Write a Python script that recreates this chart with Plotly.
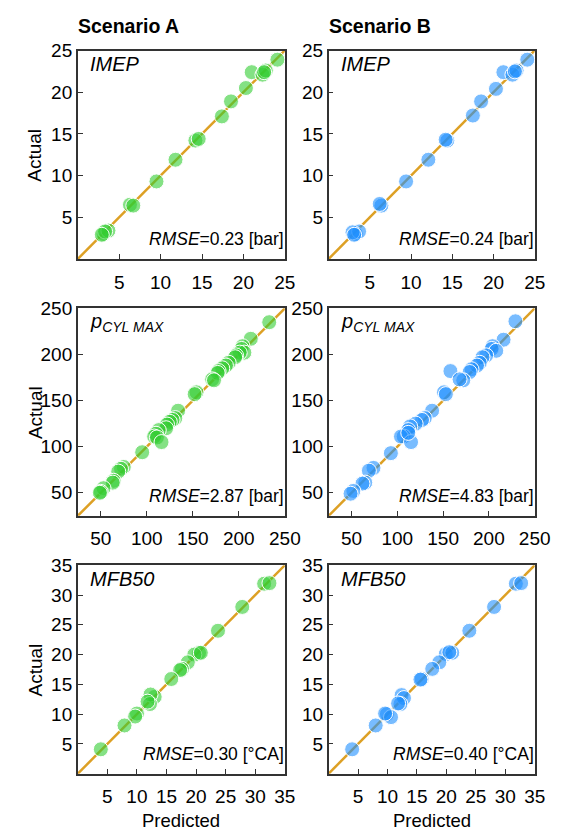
import plotly.graph_objects as go

# ---------------- data ----------------
imep_a_pred = [3.1, 3.7, 3.3, 2.9, 6.3, 6.7, 9.5, 11.8, 14.2, 14.6, 17.4, 18.5, 20.3, 21.0, 22.3, 22.7, 22.5, 24.1]
imep_a_act  = [3.0, 3.4, 3.3, 2.9, 6.5, 6.4, 9.3, 11.9, 14.2, 14.4, 17.1, 18.9, 20.5, 22.4, 22.1, 22.6, 22.4, 23.9]
imep_b_pred = [3.3, 3.7, 2.9, 3.1, 6.4, 6.2, 9.4, 12.1, 14.4, 14.2, 17.5, 18.5, 20.3, 21.2, 22.3, 22.8, 22.6, 24.1]
imep_b_act  = [3.0, 3.3, 3.2, 2.9, 6.4, 6.6, 9.3, 11.9, 14.2, 14.3, 17.2, 18.9, 20.4, 22.4, 22.1, 22.6, 22.5, 23.9]

pcyl_a_pred = [233, 213, 204, 203, 206, 201, 197, 196, 189, 186, 182, 178, 177, 171, 173, 154, 152,
               134, 131, 128, 125, 122, 121, 113, 110, 108, 111, 116, 95, 75, 72, 69, 64, 63, 53, 50, 49]
pcyl_a_act  = [235, 217, 209, 206, 202, 202, 199, 197, 191, 188, 185, 182, 180, 173, 172, 159, 157,
               139, 131, 129, 127, 124, 120, 118, 114, 111, 110, 105, 94, 78, 76, 73, 63, 61, 55, 51, 50]
pcyl_b_pred = [229, 216, 204, 203, 208, 197, 193, 190, 187, 181, 179, 158, 172, 168, 151, 153,
               138, 130, 127, 120, 114, 112, 107, 104, 115, 112, 93, 74, 69, 65, 62, 52, 49]
pcyl_b_act  = [236, 216, 209, 206, 204, 199, 197, 191, 188, 184, 181, 182, 172, 173, 159, 157,
               139, 131, 129, 125, 122, 118, 111, 111, 105, 115, 93, 77, 74, 61, 60, 52, 49]

mfb_a_pred = [31.5, 32.4, 27.8, 23.7, 20.5, 19.7, 20.8, 18.6, 17.6, 17.3, 15.8, 13.0, 12.3, 12.2, 11.8, 10.0, 9.7, 7.9, 3.9]
mfb_a_act  = [31.9, 32.0, 28.0, 24.0, 20.3, 20.0, 20.3, 18.7, 17.6, 17.4, 15.9, 12.9, 13.3, 11.7, 12.1, 10.1, 9.6, 8.1, 4.1]
mfb_b_pred = [31.8, 32.7, 28.1, 23.9, 19.9, 21.0, 20.5, 18.8, 17.6, 15.8, 15.6, 12.4, 12.8, 12.2, 11.8, 9.9, 10.6, 9.6, 8.0, 4.0]
mfb_b_act  = [31.9, 32.0, 28.0, 24.0, 20.1, 20.3, 20.4, 18.7, 17.6, 15.9, 15.8, 13.2, 12.7, 11.7, 11.8, 10.0, 9.5, 10.1, 8.1, 4.1]

scenarios = ["Scenario A", "Scenario B"]
variables = ["IMEP", "p_CYL MAX", "MFB50"]
ranges = [[0, 25], [25, 250], [0, 35]]
tickvals = [[5, 10, 15, 20, 25], [50, 100, 150, 200, 250], [5, 10, 15, 20, 25, 30, 35]]
rmse_texts = [["0.23 [bar]", "0.24 [bar]"], ["2.87 [bar]", "4.83 [bar]"], ["0.30 [°CA]", "0.40 [°CA]"]]
labels_html = ["<i>IMEP</i>", "<i>p</i><sub><i>CYL MAX</i></sub>", "<i>MFB50</i>"]

data = [[(imep_a_pred, imep_a_act), (imep_b_pred, imep_b_act)],
        [(pcyl_a_pred, pcyl_a_act), (pcyl_b_pred, pcyl_b_act)],
        [(mfb_a_pred, mfb_a_act), (mfb_b_pred, mfb_b_act)]]

colors = ["rgba(50,205,50,0.6)", "rgba(30,144,255,0.6)"]
line_color = "#DDA024"

W, H = 575, 832
col_px = [(80, 293), (338, 550)]
row_px = [(41, 252), (302, 512), (562, 773)]

FONT = "Arial, Liberation Sans, sans-serif"

fig = go.Figure()
layout = {}
annotations = []

for r in range(3):
    for c in range(2):
        idx = r * 2 + c + 1
        xa = "x" if idx == 1 else f"x{idx}"
        ya = "y" if idx == 1 else f"y{idx}"
        xkey = "xaxis" if idx == 1 else f"xaxis{idx}"
        ykey = "yaxis" if idx == 1 else f"yaxis{idx}"
        lo, hi = ranges[r]
        fig.add_trace(go.Scatter(x=[lo, hi], y=[lo, hi], mode="lines",
                                 line=dict(color=line_color, width=2.5),
                                 xaxis=xa, yaxis=ya, showlegend=False, hoverinfo="skip"))
        px_, py_ = data[r][c]
        fig.add_trace(go.Scatter(x=px_, y=py_, mode="markers",
                                 marker=dict(size=15, color=colors[c],
                                             line=dict(color="white", width=1)),
                                 xaxis=xa, yaxis=ya, showlegend=False, cliponaxis=False))
        x0, x1 = col_px[c]
        y0, y1 = row_px[r]
        common = dict(range=[lo, hi], showgrid=False, zeroline=False, showline=True,
                      mirror=True, linecolor="#333", linewidth=1.5, ticks="inside",
                      ticklen=5, tickcolor="#333", tickvals=tickvals[r],
                      tickfont=dict(family=FONT, size=19, color="black"))
        layout[xkey] = dict(common, domain=[x0 / W, x1 / W], anchor=ya,
                            ticklabelstandoff=5)
        layout[ykey] = dict(common, domain=[1 - y1 / H, 1 - y0 / H], anchor=xa,
                            ticklabelstandoff=0)
        # variable label
        annotations.append(dict(xref="paper", yref="paper", x=(x0 + 11) / W, y=1 - (y0 + 14) / H,
                                xanchor="left", yanchor="middle", showarrow=False,
                                text=labels_html[r],
                                font=dict(family=FONT, size=20, color="black")))
        annotations.append(dict(xref="paper", yref="paper", x=(x1 + 1) / W, y=1 - (y1 - 20) / H,
                                xanchor="right", yanchor="middle", showarrow=False,
                                text="<i>RMSE</i>=" + rmse_texts[r][c],
                                font=dict(family=FONT, size=17.5, color="black")))

for c in range(2):
    x0, x1 = col_px[c]
    annotations.append(dict(xref="paper", yref="paper", x=(x0 - 2) / W, y=1 - 16 / H,
                            xanchor="left", yanchor="middle", showarrow=False,
                            text="<b>" + scenarios[c] + "</b>",
                            font=dict(family=FONT, size=19.5, color="black")))
    annotations.append(dict(xref="paper", yref="paper", x=(x0 + x1) / 2 / W, y=1 - 820 / H,
                            xanchor="center", yanchor="middle", showarrow=False,
                            text="Predicted",
                            font=dict(family=FONT, size=18.5, color="black")))
for r in range(3):
    y0, y1 = row_px[r]
    annotations.append(dict(xref="paper", yref="paper", x=36 / W, y=1 - (y0 + y1) / 2 / H,
                            xanchor="center", yanchor="middle", showarrow=False, textangle=-90,
                            text="Actual",
                            font=dict(family=FONT, size=19, color="black")))

fig.update_layout(width=W, height=H, margin=dict(l=0, r=0, t=0, b=0),
                  paper_bgcolor="white", plot_bgcolor="white",
                  annotations=annotations, **layout)

fig.write_html("out.html")
